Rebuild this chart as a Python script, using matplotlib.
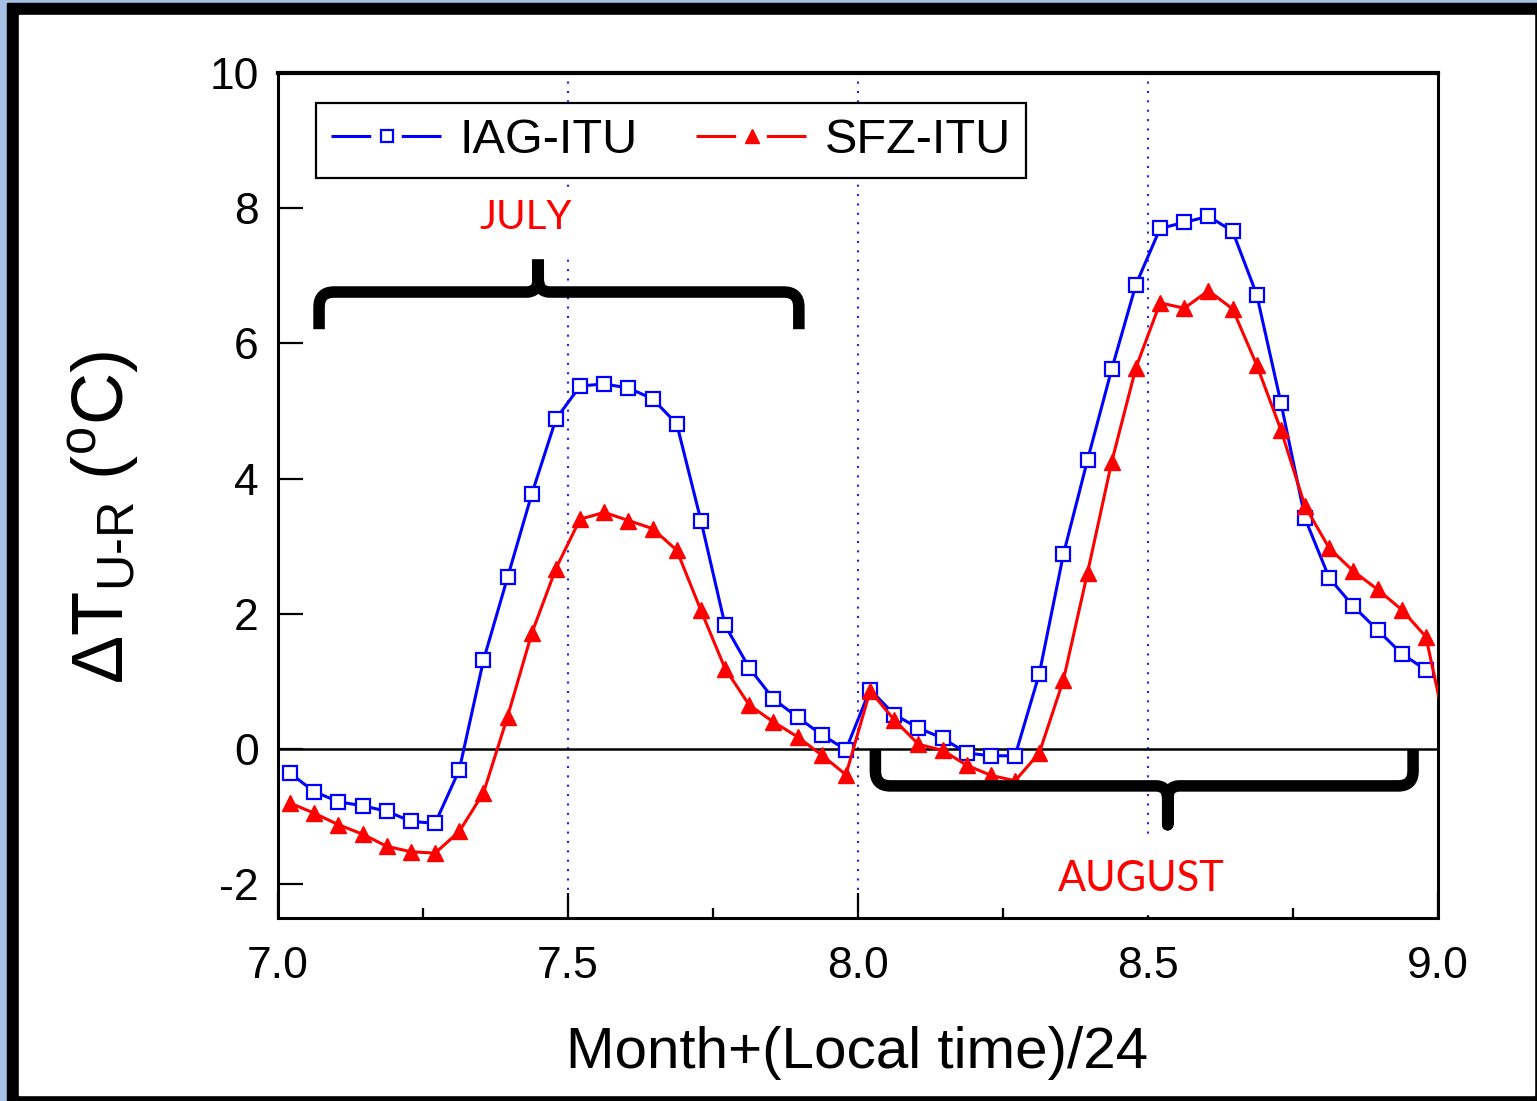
import matplotlib
matplotlib.use('Agg')
import matplotlib.pyplot as plt
import numpy as np
from matplotlib.patches import Rectangle, PathPatch
from matplotlib.path import Path
from matplotlib.lines import Line2D

# hourly mean urban-rural temperature difference, July and August
hours = np.arange(24)
blue_jul = [-0.36, -0.63, -0.78, -0.84, -0.92, -1.07, -1.10, -0.31, 1.31, 2.54, 3.77, 4.88,
            5.37, 5.40, 5.34, 5.18, 4.81, 3.38, 1.83, 1.20, 0.74, 0.47, 0.21, -0.01]
blue_aug = [0.88, 0.51, 0.31, 0.16, -0.06, -0.10, -0.10, 1.11, 2.88, 4.28, 5.62, 6.87,
            7.70, 7.79, 7.88, 7.66, 6.72, 5.12, 3.41, 2.53, 2.11, 1.76, 1.41, 1.17]
red_jul = [-0.80, -0.95, -1.12, -1.26, -1.44, -1.52, -1.54, -1.22, -0.65, 0.48, 1.71, 2.67,
           3.40, 3.50, 3.38, 3.26, 2.94, 2.05, 1.19, 0.65, 0.40, 0.18, -0.09, -0.38]
red_aug = [0.86, 0.43, 0.07, -0.02, -0.24, -0.39, -0.47, -0.06, 1.02, 2.61, 4.25, 5.64,
           6.60, 6.52, 6.78, 6.51, 5.68, 4.72, 3.59, 2.97, 2.63, 2.36, 2.06, 1.66]
red_next = [0.0]  # first point of next month, cut by the axis edge

x_jul = 7 + (hours + 0.5) / 24
x_aug = 8 + (hours + 0.5) / 24
x_next = [9 + 0.5 / 24]

W, H = 1537, 1101

plt.rcParams['font.family'] = ['Liberation Sans', 'DejaVu Sans']
plt.rcParams['mathtext.fontset'] = 'custom'
plt.rcParams['mathtext.rm'] = 'Liberation Sans'
plt.rcParams['mathtext.it'] = 'Liberation Sans:italic'
plt.rcParams['axes.unicode_minus'] = False


def fx(px):
    return px / W


def fy(py):
    return 1 - py / H


def brace(ax, x0, x1, xc, y_end, y_h, y_tip, rx, ry, rxc, ryc):
    s = 1 if y_h > y_end else -1
    t = 1 if y_tip > y_h else -1
    verts = [(x0, y_end), (x0, y_h - s * ry), (x0, y_h), (x0 + rx, y_h),
             (xc - rxc, y_h), (xc, y_h), (xc, y_h + t * ryc), (xc, y_tip),
             (xc, y_h + t * ryc), (xc, y_h), (xc + rxc, y_h),
             (x1 - rx, y_h), (x1, y_h), (x1, y_h - s * ry), (x1, y_end)]
    codes = [Path.MOVETO, Path.LINETO, Path.CURVE3, Path.CURVE3,
             Path.LINETO, Path.CURVE3, Path.CURVE3, Path.LINETO,
             Path.LINETO, Path.CURVE3, Path.CURVE3,
             Path.LINETO, Path.CURVE3, Path.CURVE3, Path.LINETO]
    ax.add_patch(PathPatch(Path(verts, codes), fill=False, lw=8.3, color='black',
                           joinstyle='round', capstyle='butt', zorder=5, clip_on=False))


fig = plt.figure(figsize=(W / 100, H / 100), dpi=100)
fig.patch.set_facecolor('#a8bfe6')
fig.add_artist(Rectangle((fx(7), 0), 1.0, fy(3), color='black', transform=fig.transFigure, zorder=0))
fig.add_artist(Rectangle((fx(19), fy(1095)), fx(1534) - fx(19), fy(15) - fy(1095), color='white',
                         transform=fig.transFigure, zorder=0))

ax = fig.add_axes([fx(278), fy(918), fx(1438) - fx(278), fy(73) - fy(918)])
ax.set_facecolor('white')

for xv in [7.5, 8.0, 8.5]:
    ax.axvline(xv, color='#2020ff', lw=1.5, ls=(0, (1, 3.5)), zorder=1)
ax.axhline(0, color='black', lw=1.8, zorder=1.5)

ax.plot(np.concatenate([x_jul, x_aug]), blue_jul + blue_aug, color='#0000ff', lw=2.2,
        marker='s', ms=10.5, mfc='white', mec='#0000ff', mew=1.6, zorder=3)
ax.plot(np.concatenate([x_jul, x_aug, x_next]), red_jul + red_aug + red_next, color='#ff0000', lw=2.2,
        marker='^', ms=11, mfc='#ff0000', mec='#ff0000', mew=1, markevery=list(range(48)),
        zorder=3.2)

ax.set_xlim(7.0, 9.0)
ax.set_ylim(-2.5, 10)
ax.set_xticks([7.0, 7.5, 8.0, 8.5, 9.0])
ax.set_xticklabels(['7.0', '7.5', '8.0', '8.5', '9.0'])
ax.set_xticks(np.arange(7.25, 9.0, 0.5), minor=True)
ax.set_yticks([-2, 0, 2, 4, 6, 8, 10])
ax.tick_params(axis='both', which='major', direction='in', length=18, width=1.6, labelsize=32)
ax.tick_params(axis='x', which='major', pad=20)
ax.tick_params(axis='y', which='major', pad=14)
ax.tick_params(axis='x', which='minor', direction='in', length=7, width=1.6)
for sp in ax.spines.values():
    sp.set_linewidth(2.2)
ax.spines['top'].set_linewidth(3)

# braces and month labels
brace(ax, 7.0708, 7.898, 7.4487, 6.21, 6.76, 7.4, 0.026, 0.22, 0.02, 0.2)
brace(ax, 8.030, 8.957, 8.534, 0.0, -0.546, -1.12, 0.026, 0.22, 0.02, 0.2)
ax.add_patch(Rectangle((7.3175, 7.27), 0.2175, 1.0, color='white', zorder=6, clip_on=False))
ax.add_patch(Rectangle((8.313, -2.44), 0.352, 1.12, color='white', zorder=6, clip_on=False))
ax.text(7.427, 7.86, 'JULY', color='#ff0000', fontsize=29, family=['Lato', 'DejaVu Sans'],
        ha='center', va='center', zorder=7)
ax.text(8.489, -1.92, 'AUGUST', color='#ff0000', fontsize=30, family=['Lato', 'DejaVu Sans'],
        ha='center', va='center', zorder=7)

# legend handles: line broken around the marker
gap = (0, (13, 10, 13, 10))
h_blue = Line2D([], [], color='#0000ff', lw=2.2, ls=gap, marker='s', ms=8.5, mfc='white',
                mec='#0000ff', mew=1.6)
h_red = Line2D([], [], color='#ff0000', lw=2.2, ls=gap, marker='^', ms=9.5, mfc='#ff0000',
               mec='#ff0000', mew=1)
leg = ax.legend([h_blue, h_red], ['IAG-ITU', 'SFZ-ITU'], loc='upper left',
                bbox_to_anchor=(0.033, 0.964), ncol=2, fontsize=35,
                frameon=True, fancybox=False, edgecolor='black', framealpha=1,
                handlelength=2.3, handletextpad=0.35, columnspacing=1.2, borderpad=0.3,
                borderaxespad=0)
leg.get_frame().set_linewidth(1.6)
leg.set_zorder(8)

fig.text(fx(857), fy(1068), 'Month+(Local time)/24', fontsize=42, ha='center', va='baseline')
fig.text(fx(104), fy(517), r'$\Delta\mathrm{T}_{\mathrm{U}\text{-}\mathrm{R}}$ $(^{\mathrm{o}}\mathrm{C})$',
         fontsize=52, rotation=90, ha='center', va='center')

fig.savefig('out.png', dpi=100, facecolor=fig.get_facecolor())
